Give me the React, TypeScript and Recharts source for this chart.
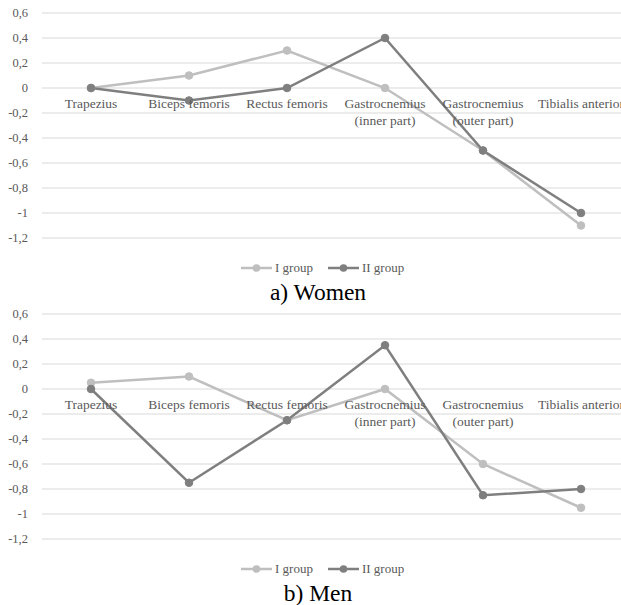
import React from "react";
import { LineChart, Line, XAxis, YAxis, CartesianGrid, Legend } from "recharts";

const categories = [
  "Trapezius",
  "Biceps femoris",
  "Rectus femoris",
  "Gastrocnemius (inner part)",
  "Gastrocnemius (outer part)",
  "Tibialis anterior",
];
const womenGroupI = [0, 0.1, 0.3, 0, -0.5, -1.1];
const womenGroupII = [0, -0.1, 0, 0.4, -0.5, -1.0];
const menGroupI = [0.05, 0.1, -0.25, 0, -0.6, -0.95];
const menGroupII = [0, -0.75, -0.25, 0.35, -0.85, -0.8];
const yTicks = [-1.2, -1, -0.8, -0.6, -0.4, -0.2, 0, 0.2, 0.4, 0.6];
const seriesNames = ["I group", "II group"];
const panelTitles = ["a) Women", "b) Men"];

const COLORS = ["#BFBFBF", "#7F7F7F"];
const FONT = "'Liberation Serif', 'Times New Roman', serif";
const TEXT = "#595959";
const Y_MIN = -1.2;
const Y_MAX = 0.6;
const CHART_W = 660;
const CHART_H = 285;
const MARGIN = { top: 13, right: 30, left: 0, bottom: 7 };
const X_AXIS_H = 20;
const LEGEND_H = 20;
const PLOT_H = CHART_H - MARGIN.top - MARGIN.bottom - X_AXIS_H - LEGEND_H;
const ZERO_Y = MARGIN.top + (PLOT_H * (Y_MAX - 0)) / (Y_MAX - Y_MIN);

const buildRows = (a: number[], b: number[]) =>
  categories.map((c, i) => ({ name: c, g1: a[i], g2: b[i] }));

const CategoryTick = (props: any) => {
  const { x, payload } = props;
  const lines = String(payload.value).replace(" (", "\n(").split("\n");
  return (
    <text
      x={x}
      y={ZERO_Y + 20}
      textAnchor="middle"
      fontFamily={FONT}
      fontSize={13.5}
      fill={TEXT}
    >
      {lines.map((l, i) => (
        <tspan key={i} x={x} dy={i === 0 ? 0 : 17}>
          {l}
        </tspan>
      ))}
    </text>
  );
};

const LegendContent = () => (
  <div
    style={{
      display: "flex",
      alignItems: "center",
      height: LEGEND_H,
      fontFamily: FONT,
      fontSize: 13,
      color: TEXT,
      whiteSpace: "nowrap",
    }}
  >
    {seriesNames.map((n, i) => (
      <div key={n} style={{ display: "flex", alignItems: "center", marginRight: i === 0 ? 15 : 0 }}>
        <svg width={31} height={10} style={{ marginRight: 3 }}>
          <line x1={0} y1={5} x2={31} y2={5} stroke={COLORS[i]} strokeWidth={2.5} />
          <circle cx={15.5} cy={5} r={3.8} fill={COLORS[i]} />
        </svg>
        <span>{n}</span>
      </div>
    ))}
  </div>
);

const Panel = ({ rows, title, top }: { rows: any[]; title: string; top: number }) => (
  <div style={{ position: "absolute", left: 0, top, width: CHART_W, height: 304 }}>
    <LineChart width={CHART_W} height={CHART_H} data={rows} margin={MARGIN}>
      <CartesianGrid vertical={false} stroke="#D9D9D9" strokeWidth={1} />
      <XAxis
        dataKey="name"
        axisLine={false}
        tickLine={false}
        interval={0}
        height={X_AXIS_H}
        padding={{ left: 49, right: 49 }}
        tick={<CategoryTick />}
      />
      <YAxis
        domain={[Y_MIN, Y_MAX]}
        ticks={yTicks}
        width={42}
        axisLine={false}
        tickLine={false}
        tickSize={0}
        tickMargin={14}
        interval={0}
        tickFormatter={(v: number) => String(Math.round(v * 10) / 10).replace(".", ",")}
        tick={{ fontFamily: FONT, fontSize: 12.5, fill: TEXT }}
      />
      <Legend
        verticalAlign="bottom"
        height={LEGEND_H}
        wrapperStyle={{ left: 241, width: 200 }}
        content={<LegendContent />}
      />
      <Line
        dataKey="g1"
        name={seriesNames[0]}
        stroke={COLORS[0]}
        strokeWidth={2.5}
        dot={{ r: 3.8, fill: COLORS[0], stroke: COLORS[0], strokeWidth: 1 }}
        isAnimationActive={false}
      />
      <Line
        dataKey="g2"
        name={seriesNames[1]}
        stroke={COLORS[1]}
        strokeWidth={2.5}
        dot={{ r: 3.8, fill: COLORS[1], stroke: COLORS[1], strokeWidth: 1 }}
        isAnimationActive={false}
      />
    </LineChart>
    <div
      style={{
        position: "absolute",
        left: 218,
        width: 200,
        top: 279,
        textAlign: "center",
        fontFamily: FONT,
        fontSize: 23.5,
        lineHeight: "27px",
        color: "#000",
      }}
    >
      {title}
    </div>
  </div>
);

export default function App() {
  return (
    <div
      style={{
        position: "absolute",
        left: 0,
        top: 0,
        width: 621,
        height: 605,
        overflow: "hidden",
        background: "#fff",
      }}
    >
      <Panel rows={buildRows(womenGroupI, womenGroupII)} title={panelTitles[0]} top={0} />
      <Panel rows={buildRows(menGroupI, menGroupII)} title={panelTitles[1]} top={301} />
    </div>
  );
}
